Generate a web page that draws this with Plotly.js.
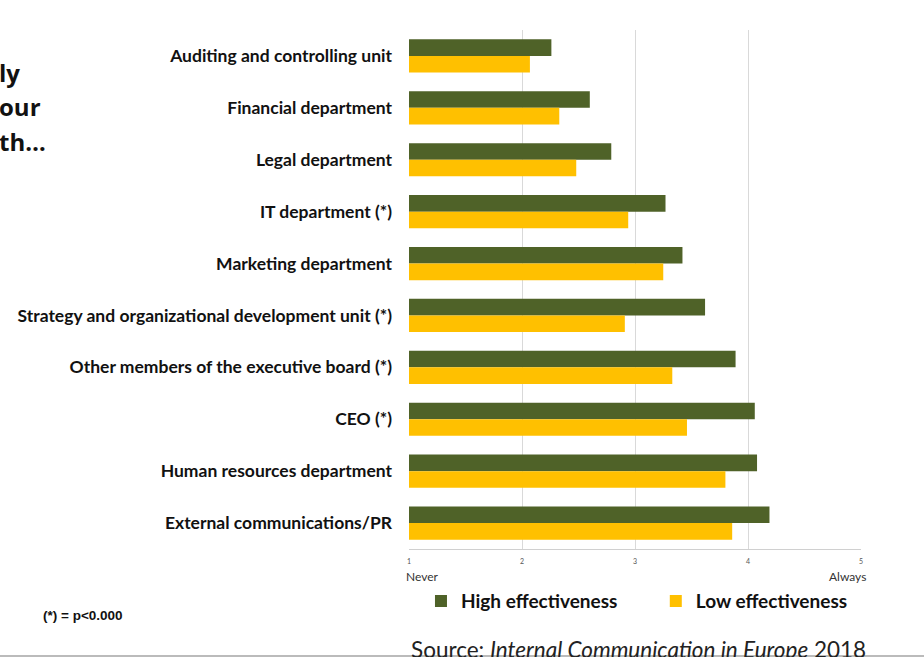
<!DOCTYPE html>
<html>
<head>
<meta charset="utf-8">
<script src="https://cdn.plot.ly/plotly-3.0.1.min.js"></script>
<style>html,body{margin:0;padding:0;background:#fff;}#chart{width:924px;height:657px;}</style>
</head>
<body>
<div id="chart"></div>
<script>
const categories = [
  "Auditing and controlling unit",
  "Financial department",
  "Legal department",
  "IT department (*)",
  "Marketing department",
  "Strategy and organizational development unit (*)",
  "Other members of the executive board (*)",
  "CEO (*)",
  "Human resources department",
  "External communications/PR"
];
const highEffectiveness = [2.26, 2.60, 2.79, 3.27, 3.42, 3.62, 3.89, 4.06, 4.08, 4.19];
const lowEffectiveness  = [2.07, 2.33, 2.48, 2.94, 3.25, 2.91, 3.33, 3.46, 3.80, 3.86];
const tickValues = [1, 2, 3, 4, 5];
const tickLabels = ["1", "2", "3", "4", "5"];
const seriesNames = ["High effectiveness", "Low effectiveness"];

const traces = [
  {type: "bar", orientation: "h", name: seriesNames[0], y: categories, x: highEffectiveness,
   base: 0, marker: {color: "#4F6228"}, legend: "legend"},
  {type: "bar", orientation: "h", name: seriesNames[1], y: categories, x: lowEffectiveness,
   base: 0, marker: {color: "#FFC000"}, legend: "legend2"}
];

const legendFont = {family: "Lato, sans-serif", size: 19, color: "#111", weight: "bold"};

const layout = {
  width: 924, height: 657,
  margin: {l: 409, r: 63, t: 30, b: 108, autoexpand: false},
  paper_bgcolor: "#fff", plot_bgcolor: "#fff",
  barmode: "group", bargap: 0.36, bargroupgap: 0,
  font: {family: "Lato, 'Open Sans', sans-serif", color: "#111"},
  xaxis: {
    range: [1, 5], tickvals: tickValues, ticktext: tickLabels,
    showgrid: true, gridcolor: "#d9d9d9", gridwidth: 1,
    showline: true, linecolor: "#d0d0d0", zeroline: false,
    ticks: "", tickfont: {size: 7, color: "#555"}, ticklabelstandoff: 6
  },
  yaxis: {
    autorange: "reversed", showgrid: false, showline: false, zeroline: false,
    ticks: "", ticklabelstandoff: 16,
    tickfont: {family: "Lato, sans-serif", size: 17.5, color: "#111", weight: "bold"}
  },
  showlegend: true,
  legend: {
    orientation: "h", x: 0.0265, xanchor: "left", y: -0.064, yanchor: "top",
    font: legendFont, itemwidth: 30
  },
  legend2: {
    orientation: "h", x: 0.546, xanchor: "left", y: -0.064, yanchor: "top",
    font: legendFont, itemwidth: 30
  },
  annotations: [
    {xref: "paper", yref: "paper", x: -0.012, y: -0.0354, xanchor: "left", yanchor: "top",
     text: "Never", showarrow: false, font: {size: 12, color: "#333"}},
    {xref: "paper", yref: "paper", x: 1.015, y: -0.0354, xanchor: "right", yanchor: "top",
     text: "Always", showarrow: false, font: {size: 12, color: "#333"}},
    {xref: "paper", yref: "paper", x: -0.815, y: -0.1095, xanchor: "left", yanchor: "top",
     text: "(*) = p<0.000", showarrow: false, font: {size: 13.5, color: "#111", weight: "bold", family: "'Liberation Sans Narrow', 'Liberation Sans', sans-serif"}},
    {xref: "paper", yref: "paper", x: 0.0, y: -0.163, xanchor: "left", yanchor: "top",
     text: "Source: <i>Internal Communication in Europe</i> 2018", showarrow: false,
     font: {size: 22.5, color: "#222", family: "Lato, sans-serif"}},
    {xref: "paper", yref: "paper", x: -0.912, y: 0.919, xanchor: "left", yanchor: "middle",
     text: "ly", showarrow: false, font: {size: 24, color: "#111", weight: "bold", family: "'Open Sans', sans-serif"}},
    {xref: "paper", yref: "paper", x: -0.912, y: 0.852, xanchor: "left", yanchor: "middle",
     text: "our", showarrow: false, font: {size: 24, color: "#111", weight: "bold", family: "'Open Sans', sans-serif"}},
    {xref: "paper", yref: "paper", x: -0.912, y: 0.786, xanchor: "left", yanchor: "middle",
     text: "th…", showarrow: false, font: {size: 24, color: "#111", weight: "bold", family: "'Open Sans', sans-serif"}}
  ],
  shapes: [
    {type: "line", xref: "paper", yref: "paper", x0: -0.905, x1: 1.14, y0: -0.206, y1: -0.206,
     line: {color: "#bbb", width: 2}}
  ]
};

Plotly.newPlot("chart", traces, layout, {displayModeBar: false, staticPlot: true});
</script>
</body>
</html>
